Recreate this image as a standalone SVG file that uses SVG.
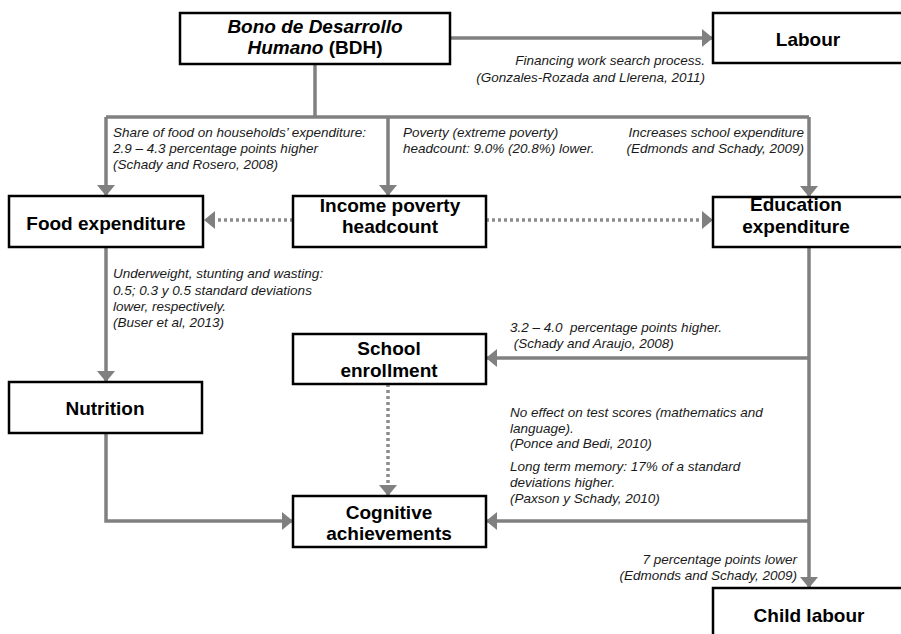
<svg xmlns="http://www.w3.org/2000/svg" width="901" height="634" viewBox="0 0 901 634">
<style>
.box{fill:#fff;stroke:#000;stroke-width:2.5}
.nt{font-family:"Liberation Sans",Arial,sans-serif;font-weight:bold;font-size:19px;fill:#000;text-anchor:middle}
.an{font-family:"Liberation Sans",Arial,sans-serif;font-style:italic;font-size:13.5px;fill:#1a1a1a}
.r{text-anchor:end}
.c{fill:none;stroke:#808080;stroke-width:3.5}
.d{fill:none;stroke:#8c8c8c;stroke-width:3.5;stroke-dasharray:3 3}
</style>
<defs>
<marker id="ah" viewBox="0 0 11 18" markerWidth="11" markerHeight="18" refX="11" refY="9" orient="auto" markerUnits="userSpaceOnUse">
<path d="M0,0 L11,9 L0,18 z" fill="#808080"/>
</marker>
</defs>
<rect width="901" height="634" fill="#fff"/>
<g id="connectors">
<path class="c" d="M315,64 V117"/>
<path class="c" d="M106,117 H809"/>
<path class="c" d="M106,117 V196" marker-end="url(#ah)"/>
<path class="c" d="M388,117 V196" marker-end="url(#ah)"/>
<path class="c" d="M809,117 V197" marker-end="url(#ah)"/>
<path class="c" d="M450,38 H713" marker-end="url(#ah)"/>
<path class="c" d="M106,247 V382" marker-end="url(#ah)"/>
<path class="c" d="M809,247 V588" marker-end="url(#ah)"/>
<path class="c" d="M809,358 H486" marker-end="url(#ah)"/>
<path class="c" d="M809,521 H486" marker-end="url(#ah)"/>
<path class="c" d="M106,433 V521 H293" marker-end="url(#ah)"/>
<path class="d" d="M293,220 H204" marker-end="url(#ah)"/>
<path class="d" d="M486,220 H713" marker-end="url(#ah)"/>
<path class="d" d="M388,384 V496" marker-end="url(#ah)"/>
</g>
<g id="labels">
<text class="an r" x="705" y="65">Financing work search process.</text>
<text class="an r" x="705" y="82">(Gonzales-Rozada and Llerena, 2011)</text>
<text class="an" x="113" y="137">Share of food on households’ expenditure:</text>
<text class="an" x="113" y="153">2.9 – 4.3 percentage points higher</text>
<text class="an" x="113" y="169">(Schady and Rosero, 2008)</text>
<text class="an" x="403" y="137">Poverty (extreme poverty)</text>
<text class="an" x="403" y="153">headcount: 9.0% (20.8%) lower.</text>
<text class="an r" x="804" y="137">Increases school expenditure</text>
<text class="an r" x="804" y="153">(Edmonds and Schady, 2009)</text>
<text class="an" x="113" y="278">Underweight, stunting and wasting:</text>
<text class="an" x="113" y="295">0.5; 0.3 y 0.5 standard deviations</text>
<text class="an" x="113" y="311">lower, respectively.</text>
<text class="an" x="113" y="327">(Buser et al, 2013)</text>
<text class="an" x="510" y="332" xml:space="preserve">3.2 – 4.0  percentage points higher.</text>
<text class="an" x="510" y="348" xml:space="preserve"> (Schady and Araujo, 2008)</text>
<text class="an" x="510" y="417">No effect on test scores (mathematics and</text>
<text class="an" x="510" y="433">language).</text>
<text class="an" x="510" y="448">(Ponce and Bedi, 2010)</text>
<text class="an" x="510" y="471">Long term memory: 17% of a standard</text>
<text class="an" x="510" y="487">deviations higher.</text>
<text class="an" x="510" y="503">(Paxson y Schady, 2010)</text>
<text class="an r" x="797" y="564">7 percentage points lower</text>
<text class="an r" x="797" y="580">(Edmonds and Schady, 2009)</text>
</g>
<g id="bdh">
<rect class="box" x="180" y="13" width="270" height="51"/>
<text class="nt" x="315" y="33" font-style="italic">Bono de Desarrollo</text>
<text class="nt" x="315" y="54"><tspan font-style="italic">Humano</tspan> (BDH)</text>
</g>
<g id="labour">
<rect class="box" x="713" y="13" width="192" height="50"/>
<text class="nt" x="808" y="46">Labour</text>
</g>
<g id="food">
<rect class="box" x="9" y="196" width="194" height="51"/>
<text class="nt" x="106" y="230">Food expenditure</text>
</g>
<g id="income">
<rect class="box" x="293" y="196" width="193" height="51"/>
<text class="nt" x="390" y="212">Income poverty</text>
<text class="nt" x="390" y="233">headcount</text>
</g>
<g id="education">
<rect class="box" x="713" y="197" width="192" height="50"/>
<text class="nt" x="796" y="211">Education</text>
<text class="nt" x="796" y="233">expenditure</text>
</g>
<g id="nutrition">
<rect class="box" x="9" y="382" width="193" height="51"/>
<text class="nt" x="105" y="415">Nutrition</text>
</g>
<g id="school">
<rect class="box" x="293" y="334" width="193" height="50"/>
<text class="nt" x="389" y="355">School</text>
<text class="nt" x="389" y="377">enrollment</text>
</g>
<g id="cognitive">
<rect class="box" x="293" y="496" width="193" height="51"/>
<text class="nt" x="389" y="519">Cognitive</text>
<text class="nt" x="389" y="540">achievements</text>
</g>
<g id="child">
<rect class="box" x="713" y="588" width="192" height="52"/>
<text class="nt" x="809" y="622">Child labour</text>
</g>
</svg>
